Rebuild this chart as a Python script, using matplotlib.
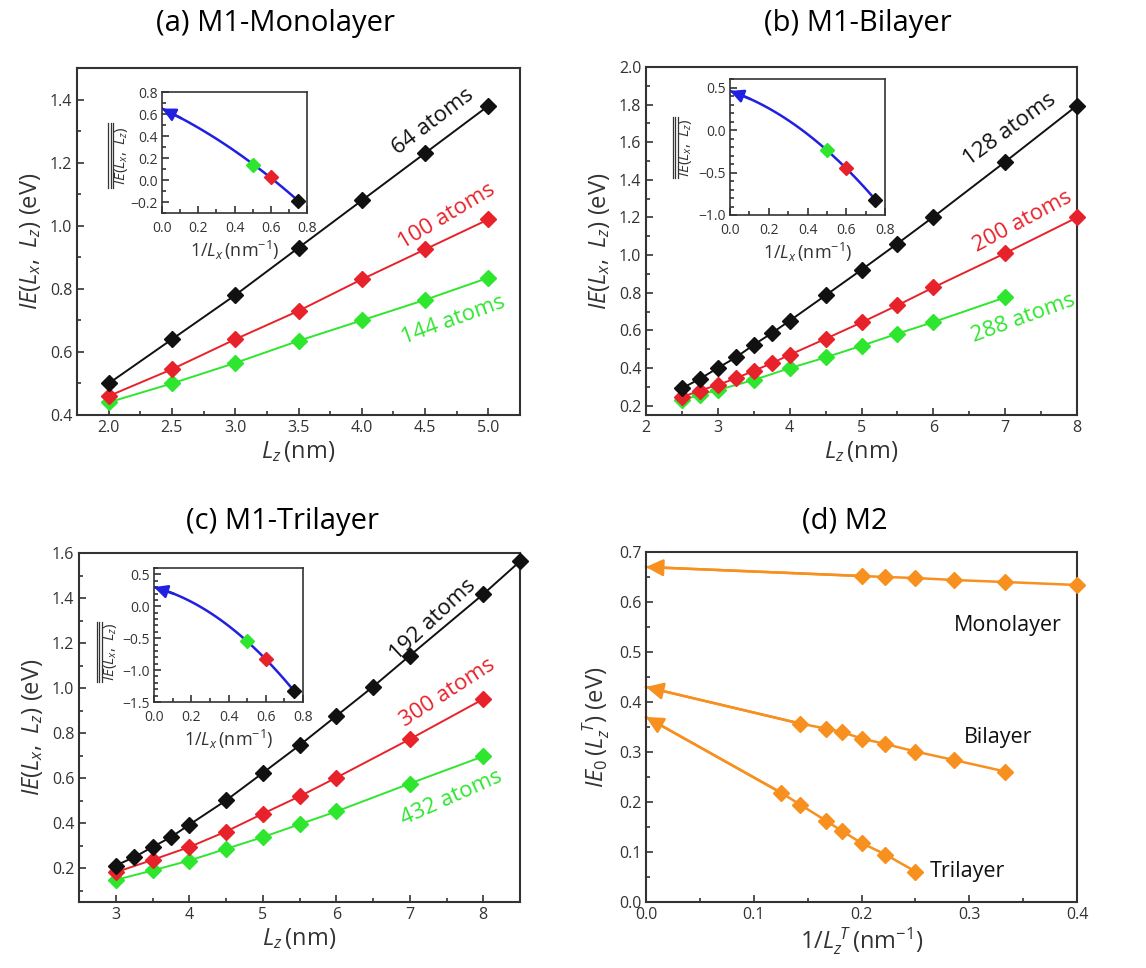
import numpy as np
import matplotlib
matplotlib.use("Agg")
import matplotlib.pyplot as plt
from matplotlib.ticker import MultipleLocator

plt.rcParams['font.family'] = ['Open Sans', 'DejaVu Sans']
plt.rcParams['mathtext.fontset'] = 'custom'
plt.rcParams['mathtext.rm'] = 'Open Sans'
plt.rcParams['mathtext.it'] = 'Open Sans:italic'

BLACK = '#111111'
RED = '#e8222a'
GREEN = '#2ee62e'
BLUE = '#2020e0'
ORANGE = '#f7901e'
GREY = '#333333'

# ---- (a) M1-Monolayer ----
lz_a = [2.0, 2.5, 3.0, 3.5, 4.0, 4.5, 5.0]
ie_a64 = [0.50, 0.64, 0.78, 0.93, 1.08, 1.23, 1.38]
ie_a100 = [0.46, 0.545, 0.64, 0.73, 0.83, 0.925, 1.02]
ie_a144 = [0.44, 0.50, 0.565, 0.635, 0.70, 0.765, 0.835]

# ---- (b) M1-Bilayer ----
lz_b128 = [2.5, 2.75, 3.0, 3.25, 3.5, 3.75, 4.0, 4.5, 5.0, 5.5, 6.0, 7.0, 8.0]
ie_b128 = [0.292, 0.342, 0.40, 0.456, 0.523, 0.585, 0.651, 0.786, 0.922, 1.061, 1.203, 1.496, 1.795]
lz_b200 = [2.5, 2.75, 3.0, 3.25, 3.5, 3.75, 4.0, 4.5, 5.0, 5.5, 6.0, 7.0, 8.0]
ie_b200 = [0.245, 0.28, 0.31, 0.345, 0.385, 0.425, 0.47, 0.555, 0.642, 0.733, 0.828, 1.01, 1.20]
lz_b288 = [2.5, 2.75, 3.0, 3.5, 4.0, 4.5, 5.0, 5.5, 6.0, 7.0]
ie_b288 = [0.23, 0.257, 0.283, 0.336, 0.399, 0.456, 0.518, 0.582, 0.644, 0.775]

# ---- (c) M1-Trilayer ----
lz_c192 = [3.0, 3.25, 3.5, 3.75, 4.0, 4.5, 5.0, 5.5, 6.0, 6.5, 7.0, 8.0, 8.5]
ie_c192 = [0.212, 0.249, 0.294, 0.338, 0.393, 0.501, 0.623, 0.746, 0.876, 1.006, 1.144, 1.417, 1.563]
lz_c = [3.0, 3.5, 4.0, 4.5, 5.0, 5.5, 6.0, 7.0, 8.0]
ie_c300 = [0.182, 0.237, 0.294, 0.363, 0.442, 0.519, 0.602, 0.773, 0.951]
ie_c432 = [0.148, 0.19, 0.234, 0.286, 0.338, 0.395, 0.452, 0.576, 0.697]

# ---- insets: 1/Lx vs mean IE ----
inv_lx = [0.0, 0.5, 0.6, 0.75]
ins_a = [0.65, 0.14, 0.03, -0.19]
ins_b = [0.46, -0.24, -0.45, -0.82]
ins_c = [0.30, -0.55, -0.83, -1.32]

# ---- (d) M2 ----
inv_lz_mono = [0.2, 0.2222, 0.25, 0.2857, 0.3333, 0.4]
ie0_mono = [0.652, 0.650, 0.648, 0.644, 0.640, 0.634]
ie0_mono_ext = 0.67
inv_lz_bi = [0.1429, 0.1667, 0.1818, 0.2, 0.2222, 0.25, 0.2857, 0.3333]
ie0_bi = [0.357, 0.347, 0.340, 0.327, 0.316, 0.301, 0.284, 0.261]
ie0_bi_ext = 0.43
inv_lz_tri = [0.125, 0.1429, 0.1667, 0.1818, 0.2, 0.2222, 0.25]
ie0_tri = [0.219, 0.195, 0.163, 0.142, 0.118, 0.095, 0.061]
ie0_tri_ext = 0.37

W, H = 1146, 968
fig = plt.figure(figsize=(W / 100, H / 100), dpi=100)


def px_axes(l, t, r, b):
    return fig.add_axes([l / W, 1 - b / H, (r - l) / W, (b - t) / H])


def style(ax, xmaj, xmin, ymaj, ymin, lsize=11.5, lw=1.5):
    for s in ['top', 'right', 'left', 'bottom']:
        ax.spines[s].set_color(GREY)
        ax.spines[s].set_linewidth(lw)
    ax.xaxis.set_major_locator(MultipleLocator(xmaj))
    ax.xaxis.set_minor_locator(MultipleLocator(xmin))
    ax.yaxis.set_major_locator(MultipleLocator(ymaj))
    ax.yaxis.set_minor_locator(MultipleLocator(ymin))
    ax.tick_params(which='both', direction='in', top=False, right=False,
                   colors=GREY, labelsize=lsize, width=1.2)
    ax.tick_params(which='major', length=5)
    ax.tick_params(which='minor', length=3)


def series(ax, x, y, c, ms=8):
    ax.plot(x, y, '-', color=c, lw=1.4, marker='D', ms=ms, mec=c, mfc=c,
            clip_on=False, zorder=3)


def inset(l, t, r, b, vals, ylim, ymaj, ymin, lab_x, bar_x, bar_y):
    ax = px_axes(l, t, r, b)
    style(ax, 0.2, 0.1, ymaj, ymin, lsize=10, lw=1.2)
    ax.tick_params(axis='y', pad=3)
    ax.tick_params(axis='x', pad=6)
    ax.set_xlim(0, 0.8)
    ax.set_ylim(*ylim)
    coef = np.polyfit(inv_lx, vals, 2)
    xf = np.linspace(inv_lx[0], inv_lx[-1], 100)
    yf = np.polyval(coef, xf)
    ax.plot(xf, yf, color=BLUE, lw=1.8, zorder=2)
    ax.annotate('', xy=(xf[0], yf[0]), xytext=(xf[14], yf[14]),
                arrowprops=dict(arrowstyle='-|>', color=BLUE, lw=1.8,
                                mutation_scale=20, shrinkA=0, shrinkB=0),
                annotation_clip=False)
    for xv, yv, c in zip(inv_lx[1:], vals[1:], [GREEN, RED, BLACK]):
        ax.plot(xv, yv, 'D', color=c, ms=7, zorder=3, clip_on=False)
    ax.set_xlabel(r'$1/L_x\,$(nm$^{-1}$)', fontsize=13, color=GREY, labelpad=2)
    ax.text(lab_x, sum(bar_y) / 2, r'$IE(L_x,\ L_z)$', transform=ax.transAxes,
            rotation=90, ha='center', va='center', fontsize=11, color=GREY)
    for bx in bar_x:
        ax.plot([bx, bx], bar_y, color=GREY, lw=0.9, transform=ax.transAxes,
                clip_on=False)
    return ax


# ---------- panel (a) ----------
ax = px_axes(77, 68, 520, 415)
style(ax, 0.5, 0.25, 0.2, 0.1)
ax.set_xlim(1.75, 5.25)
ax.set_ylim(0.4, 1.5)
series(ax, lz_a, ie_a144, GREEN)
series(ax, lz_a, ie_a100, RED)
series(ax, lz_a, ie_a64, BLACK)
ax.text(4.56, 1.33, '64 atoms', rotation=37, color=BLACK, fontsize=16, ha='center', va='center')
ax.text(4.67, 1.03, '100 atoms', rotation=31, color=RED, fontsize=16, ha='center', va='center')
ax.text(4.72, 0.70, '144 atoms', rotation=20, color=GREEN, fontsize=16, ha='center', va='center')
ax.set_xlabel(r'$L_z\,$(nm)', fontsize=17, color=GREY, labelpad=2)
ax.set_ylabel(r'$IE(L_x,\ L_z)$ (eV)', fontsize=17, color=GREY, labelpad=5)
inset(162, 92, 307, 213, ins_a, (-0.3, 0.8), 0.2, 0.1,
      -0.28, [-0.37, -0.353, -0.336], [0.21, 0.74])

# ---------- panel (b) ----------
ax = px_axes(646, 67, 1077, 415)
style(ax, 1, 0.5, 0.2, 0.1)
ax.set_xlim(2, 8)
ax.set_ylim(0.15, 2.0)
series(ax, lz_b288, ie_b288, GREEN)
series(ax, lz_b200, ie_b200, RED)
series(ax, lz_b128, ie_b128, BLACK)
ax.text(7.07, 1.665, '128 atoms', rotation=36, color=BLACK, fontsize=16, ha='center', va='center')
ax.text(7.24, 1.176, '200 atoms', rotation=28, color=RED, fontsize=16, ha='center', va='center')
ax.text(7.25, 0.666, '288 atoms', rotation=20, color=GREEN, fontsize=16, ha='center', va='center')
ax.set_xlabel(r'$L_z\,$(nm)', fontsize=17, color=GREY, labelpad=2)
ax.set_ylabel(r'$IE(L_x,\ L_z)$ (eV)', fontsize=17, color=GREY, labelpad=5)
inset(730, 79, 885, 215, ins_b, (-1.0, 0.6), 0.5, 0.1,
      -0.285, [-0.37, -0.354, -0.338], [0.27, 0.72])

# ---------- panel (c) ----------
ax = px_axes(79, 553, 520, 902)
style(ax, 1, 0.5, 0.2, 0.1)
ax.set_xlim(2.5, 8.5)
ax.set_ylim(0.05, 1.6)
series(ax, lz_c, ie_c432, GREEN)
series(ax, lz_c, ie_c300, RED)
series(ax, lz_c192, ie_c192, BLACK)
ax.text(7.32, 1.303, '192 atoms', rotation=43, color=BLACK, fontsize=16, ha='center', va='center')
ax.text(7.51, 0.979, '300 atoms', rotation=33, color=RED, fontsize=16, ha='center', va='center')
ax.text(7.57, 0.512, '432 atoms', rotation=24, color=GREEN, fontsize=16, ha='center', va='center')
ax.set_xlabel(r'$L_z\,$(nm)', fontsize=17, color=GREY, labelpad=2)
ax.set_ylabel(r'$IE(L_x,\ L_z)$ (eV)', fontsize=17, color=GREY, labelpad=5)
inset(154, 568, 303, 702, ins_c, (-1.5, 0.6), 0.5, 0.1,
      -0.29, [-0.385, -0.368, -0.351], [0.15, 0.60])

# ---------- panel (d) ----------
ax = px_axes(646, 552, 1077, 902)
style(ax, 0.1, 0.05, 0.1, 0.05)
ax.set_xlim(0, 0.4)
ax.set_ylim(0, 0.7)
for xs, ys, y0 in [(inv_lz_mono, ie0_mono, ie0_mono_ext),
                   (inv_lz_bi, ie0_bi, ie0_bi_ext),
                   (inv_lz_tri, ie0_tri, ie0_tri_ext)]:
    ax.plot([0] + xs, [y0] + ys, '-', color=ORANGE, lw=1.8, zorder=2, clip_on=False)
    ax.plot(xs, ys, 'D', color=ORANGE, ms=8.5, zorder=3, clip_on=False)
    ax.annotate('', xy=(0, y0), xytext=(xs[0], ys[0]),
                arrowprops=dict(arrowstyle='-|>', color=ORANGE, lw=1.8,
                                mutation_scale=26, shrinkA=0, shrinkB=0),
                annotation_clip=False)
ax.xaxis.set_major_formatter(matplotlib.ticker.FormatStrFormatter('%.1f'))
ax.text(0.336, 0.554, 'Monolayer', color=BLACK, fontsize=15.5, ha='center', va='center')
ax.text(0.327, 0.328, 'Bilayer', color=BLACK, fontsize=15.5, ha='center', va='center')
ax.text(0.298, 0.060, 'Trilayer', color=BLACK, fontsize=15.5, ha='center', va='center')
ax.set_xlabel(r'$1/L_z^{\ T}\,$(nm$^{-1}$)', fontsize=17, color=GREY, labelpad=2)
ax.set_ylabel(r'$IE_0\,(L_z^{\ T})$ (eV)', fontsize=17, color=GREY, labelpad=5)

# ---------- titles ----------
fig.text(275 / W, 1 - 23 / H, '(a) M1-Monolayer', ha='center', va='center', fontsize=21)
fig.text(858 / W, 1 - 23 / H, '(b) M1-Bilayer', ha='center', va='center', fontsize=21)
fig.text(283 / W, 1 - 521 / H, '(c) M1-Trilayer', ha='center', va='center', fontsize=21)
fig.text(845 / W, 1 - 521 / H, '(d) M2', ha='center', va='center', fontsize=21)

fig.savefig('out.png', dpi=100)
